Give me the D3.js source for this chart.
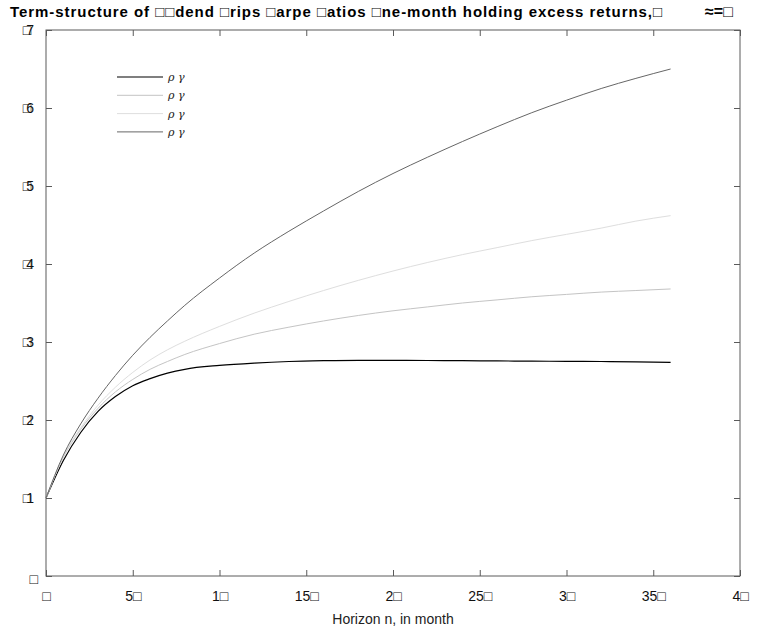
<!DOCTYPE html>
<html>
<head>
<meta charset="utf-8">
<script src="https://cdn.jsdelivr.net/npm/d3@7"></script>
<style>
  body { margin: 0; background: #fff; }
  text { font-family: "Liberation Sans", Arial, sans-serif; }
</style>
</head>
<body>
<div id="chart"></div>
<script>
// horizon (months) and the four Sharpe-ratio curves
var horizon = [0, 1, 2, 3, 4, 5, 6, 7, 8, 10, 12, 14, 16, 18, 20, 22, 24, 26, 28, 30, 32, 34, 36];
var serieA = [0.100, 0.148, 0.184, 0.211, 0.230, 0.244, 0.253, 0.260, 0.265, 0.270, 0.273, 0.275, 0.276, 0.2765, 0.2765, 0.2763, 0.276, 0.2757, 0.2755, 0.2752, 0.275, 0.2745, 0.274];
var serieB = [0.100, 0.152, 0.188, 0.215, 0.236, 0.252, 0.265, 0.275, 0.284, 0.298, 0.310, 0.319, 0.327, 0.334, 0.340, 0.345, 0.350, 0.354, 0.358, 0.361, 0.364, 0.366, 0.368];
var serieC = [0.100, 0.153, 0.190, 0.219, 0.242, 0.261, 0.277, 0.290, 0.301, 0.320, 0.337, 0.352, 0.366, 0.379, 0.391, 0.402, 0.412, 0.421, 0.430, 0.438, 0.446, 0.455, 0.462];
var serieD = [0.100, 0.155, 0.195, 0.228, 0.257, 0.283, 0.306, 0.327, 0.347, 0.382, 0.414, 0.442, 0.468, 0.493, 0.516, 0.537, 0.557, 0.576, 0.594, 0.610, 0.625, 0.638, 0.650];
var legendLabels = ["\u03C1 \u03B3", "\u03C1 \u03B3", "\u03C1 \u03B3", "\u03C1 \u03B3"];
var xTicks = [0, 5, 10, 15, 20, 25, 30, 35, 40];
var xTickLabels = ["\u25A1", "5\u25A1", "1\u25A1", "15\u25A1", "2\u25A1", "25\u25A1", "3\u25A1", "35\u25A1", "4\u25A1"];
var yTicks = [0, 0.1, 0.2, 0.3, 0.4, 0.5, 0.6, 0.7];
var yTickLabels = ["\u25A1", "\u25A11", "\u25A12", "\u25A13", "\u25A14", "\u25A15", "\u25A16", "\u25A17"];

drawChart();

function drawChart() {
    var width = 766;
    var height = 632;
    var mLeft = 46, mRight = 740, mTop = 30, mBottom = 576;

    var svg = d3.select('#chart')
        .append('svg')
        .attr('width', width)
        .attr('height', height);

    var x = d3.scaleLinear().domain([0, 40]).range([mLeft, mRight]);
    var y = d3.scaleLinear().domain([0, 0.7]).range([mBottom, mTop]);

    // box
    svg.append('rect')
        .attr('x', mLeft).attr('y', mTop)
        .attr('width', mRight - mLeft).attr('height', mBottom - mTop)
        .attr('fill', 'none').attr('stroke', '#5a5a5a').attr('stroke-width', 1);

    // axes with inner ticks
    var xaxis = d3.axisBottom(x).tickValues(xTicks).tickSize(-6).tickPadding(15)
        .tickFormat((d, i) => xTickLabels[i]);
    var gx = svg.append('g').attr('transform', 'translate(0,' + mBottom + ')').call(xaxis);
    gx.select('.domain').remove();
    gx.selectAll('line').attr('stroke', '#5a5a5a');
    gx.selectAll('text').style('font-size', '14px').attr('fill', '#111');

    var gxTop = svg.append('g').attr('transform', 'translate(0,' + mTop + ')')
        .call(d3.axisTop(x).tickValues(xTicks).tickSize(-6).tickFormat(''));
    gxTop.select('.domain').remove();
    gxTop.selectAll('line').attr('stroke', '#5a5a5a');

    var yaxis = d3.axisLeft(y).tickValues(yTicks).tickSize(-6).tickPadding(8)
        .tickFormat((d, i) => yTickLabels[i]);
    var gy = svg.append('g').attr('transform', 'translate(' + mLeft + ',0)').call(yaxis);
    gy.select('.domain').remove();
    gy.selectAll('line').attr('stroke', '#5a5a5a');
    gy.selectAll('text').style('font-size', '14px').attr('fill', '#111')
        .attr('x', (d) => d === 0 ? -8 : -17)
        .attr('dy', (d) => d === 0 ? '0.5em' : '0.32em')
        .style('letter-spacing', (d) => d === 0 ? '0px' : '-5px');

    var gyRight = svg.append('g').attr('transform', 'translate(' + mRight + ',0)')
        .call(d3.axisRight(y).tickValues(yTicks).tickSize(-6).tickFormat(''));
    gyRight.select('.domain').remove();
    gyRight.selectAll('line').attr('stroke', '#5a5a5a');

    // curves
    var series = [
        { values: serieA, color: '#000000', width: 1.2 },
        { values: serieB, color: '#c4c4c4', width: 1 },
        { values: serieC, color: '#dedede', width: 1 },
        { values: serieD, color: '#666666', width: 1 }
    ];

    var line = d3.line()
        .x((d) => x(d[0]))
        .y((d) => y(d[1]))
        .curve(d3.curveMonotoneX);

    series.forEach(function (s) {
        svg.append('path')
            .datum(horizon.map((h, i) => [h, s.values[i]]))
            .attr('d', line)
            .attr('fill', 'none')
            .attr('stroke', s.color)
            .attr('stroke-width', s.width);
    });

    // legend
    var legend = svg.append('g').attr('transform', 'translate(117,77)');
    series.forEach(function (s, i) {
        legend.append('line')
            .attr('x1', 0).attr('x2', 46)
            .attr('y1', i * 18.3).attr('y2', i * 18.3)
            .attr('stroke', s.color).attr('stroke-width', s.width);
        legend.append('text')
            .attr('x', 51).attr('y', i * 18.3 + 4)
            .style('font-family', '"DejaVu Serif", "Liberation Serif", serif')
            .style('font-style', 'italic')
            .style('font-size', '11px')
            .attr('fill', '#222')
            .text(legendLabels[i]);
    });

    // title
    svg.append('text')
        .attr('x', 10).attr('y', 17)
        .attr('textLength', 652)
        .attr('lengthAdjust', 'spacing')
        .style('font-size', '15px').style('font-weight', 'bold')
        .text('Term-structure of \u25A1\u25A1dend \u25A1rips \u25A1arpe \u25A1atios \u25A1ne-month holding excess returns,\u25A1');
    svg.append('text')
        .attr('x', 705).attr('y', 17)
        .style('font-size', '16px').style('font-weight', 'bold')
        .text('\u2248=\u25A1');

    // x label
    svg.append('text')
        .attr('x', (mLeft + mRight) / 2).attr('y', 624)
        .attr('text-anchor', 'middle')
        .style('font-size', '14px')
        .attr('fill', '#222')
        .text('Horizon n, in month');
}
</script>
</body>
</html>
